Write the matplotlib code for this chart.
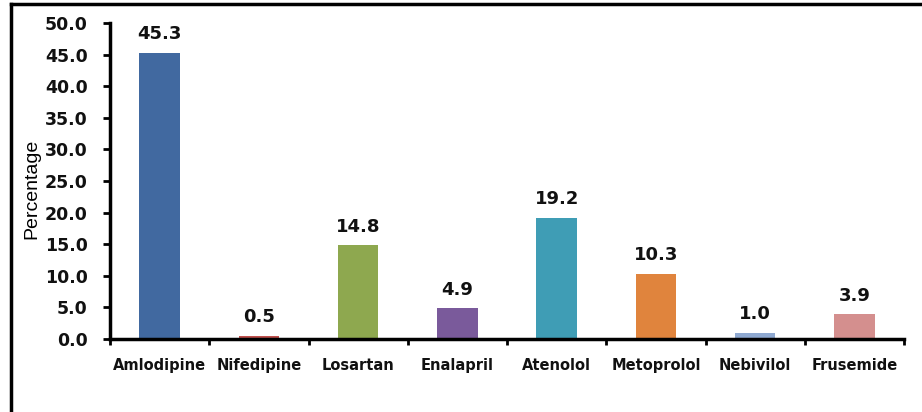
# Bar chart of antihypertensive drug use (percentage of prescriptions)

import numpy as np
import matplotlib.pyplot as plt
from matplotlib.lines import Line2D

drugs = ['Amlodipine', 'Nifedipine', 'Losartan', 'Enalapril',
         'Atenolol', 'Metoprolol', 'Nebivilol', 'Frusemide']
percent = [45.3, 0.5, 14.8, 4.9, 19.2, 10.3, 1.0, 3.9]
bar_colors = ['#4169a0', '#c0504d', '#8ea84f', '#7a5a9b',
              '#3f9db5', '#e0843d', '#8fa9d1', '#d48f8e']
y_ticks = np.arange(0, 50.1, 5)

fig = plt.figure(figsize=(9.22, 4.12), dpi=100)
ax = fig.add_axes([0.1193, 0.1772, 0.8612, 0.767])

x = np.arange(len(drugs))
ax.bar(x, percent, width=0.41, color=bar_colors)

# value labels above each bar
for xi, v in zip(x, percent):
    ax.text(xi, v + 1.5, f'{v:.1f}', ha='center', va='bottom',
            fontsize=13, fontweight='bold', color='#111111')

ax.set_xlim(-0.5, len(drugs) - 0.5)
ax.set_ylim(0, 50)
ax.set_yticks(y_ticks)
ax.set_yticklabels([f'{t:.1f}' for t in y_ticks], fontsize=12.5,
                   fontweight='bold', color='#111111')

# category labels between tick marks placed on category boundaries
ax.set_xticks(np.arange(-0.5, len(drugs)), minor=False)
ax.set_xticklabels([])
ax.set_xticks(x, minor=True)
ax.set_xticklabels(drugs, minor=True, fontsize=10.5, fontweight='bold',
                   color='#111111')
ax.tick_params(axis='x', which='minor', length=0, pad=14)
ax.tick_params(axis='x', which='major', length=4, width=2, direction='out')
ax.tick_params(axis='y', length=5, width=2, direction='out', pad=11)

for side in ['top', 'right']:
    ax.spines[side].set_visible(False)
for side in ['left', 'bottom']:
    ax.spines[side].set_linewidth(2.5)

fig.text(0.035, 0.541, 'Percentage', rotation=90, ha='center', va='center',
         fontsize=14, family='Liberation Sans')

# outer frame lines (top and left)
fig.add_artist(Line2D([0.012, 1.0], [0.99, 0.99], color='black', lw=2.5,
                      transform=fig.transFigure))
fig.add_artist(Line2D([0.012, 0.012], [0.0, 0.99], color='black', lw=2.5,
                      transform=fig.transFigure))

fig.savefig('out.png', dpi=100)
